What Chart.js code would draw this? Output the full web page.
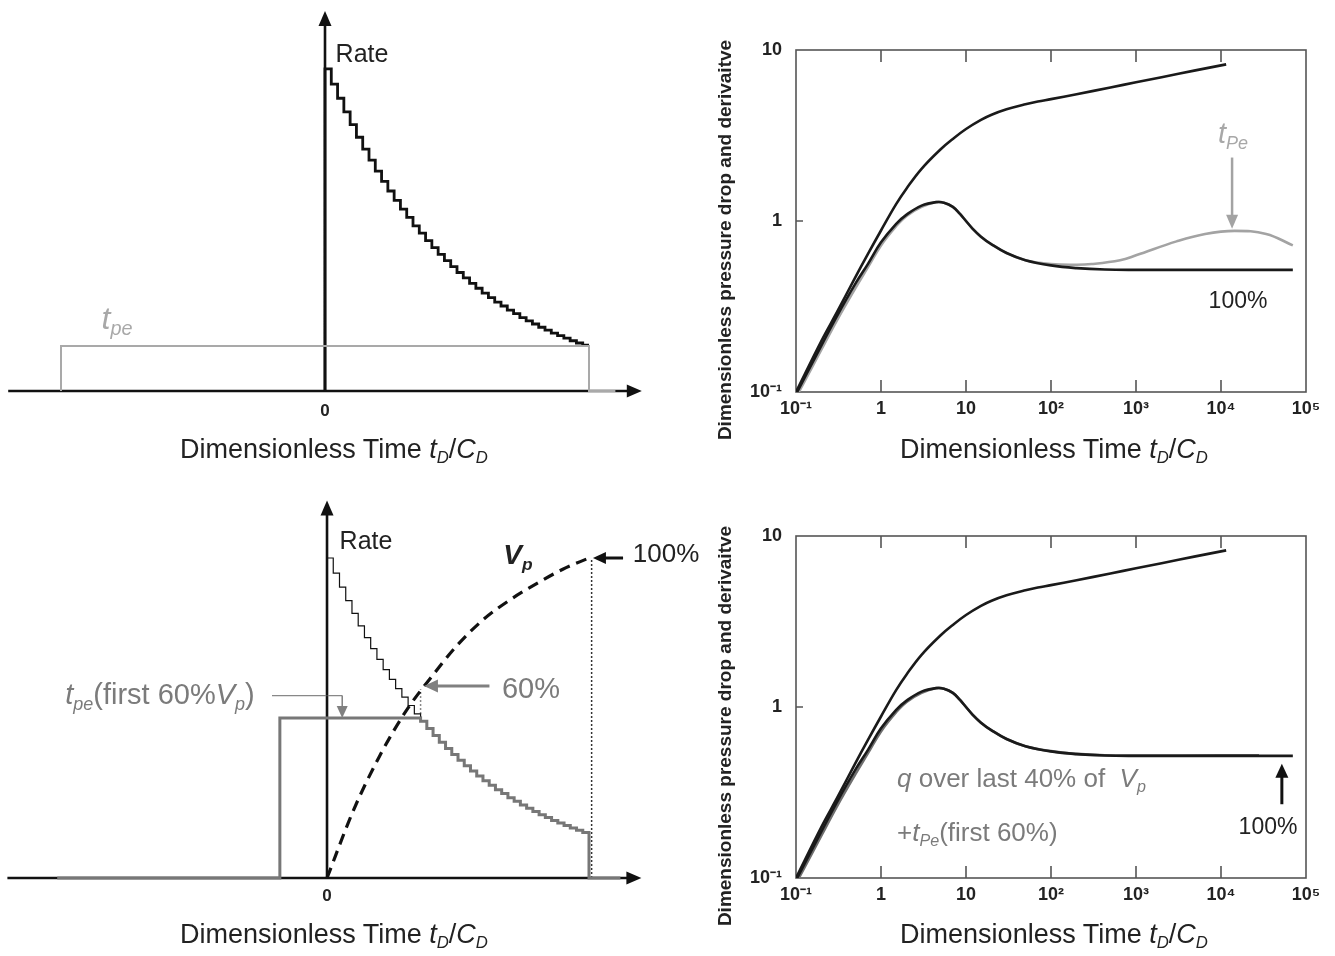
<!DOCTYPE html>
<html>
<head>
<meta charset="utf-8">
<script src="https://cdn.jsdelivr.net/npm/chart.js@4/dist/chart.umd.min.js"></script>
<style>
  body { margin: 0; background: #fff; width: 1335px; height: 956px; position: relative; overflow: hidden;
         font-family: "Liberation Sans", Arial, sans-serif; color: #222; }
  canvas { position: absolute; }
  .t { position: absolute; transform: translate(-50%, -50%); white-space: nowrap; line-height: 1; }
  .l { position: absolute; transform: translate(0, -50%); white-space: nowrap; line-height: 1; }
  .yt { position: absolute; transform: translate(-50%, -50%) rotate(-90deg); white-space: nowrap;
        font-weight: bold; font-size: 19px; line-height: 1; }
  .xt { font-size: 27px; }
  .s { font-size: 62%; position: relative; top: 0.32em; }
  .g1 { color: #a8a8a8; }
  .g2 { color: #7b7b7b; }
</style>
</head>
<body>
<canvas id="tl" width="667" height="478" style="left:0;top:0"></canvas>
<canvas id="tr" width="645" height="478" style="left:690px;top:0"></canvas>
<canvas id="bl" width="690" height="476" style="left:0;top:480px"></canvas>
<canvas id="br" width="645" height="476" style="left:690px;top:480px"></canvas>

<!-- top left -->
<div class="t" style="left:362px;top:53px;font-size:25px">Rate</div>
<div class="t g1" style="left:117px;top:318px;font-size:32px"><i>t<span class="s">pe</span></i></div>
<div class="t" style="left:325px;top:410px;font-size:17px;font-weight:bold">0</div>
<div class="t xt" style="left:334px;top:449px">Dimensionless Time <i>t</i><span class="s"><i>D</i></span>/<i>C</i><span class="s"><i>D</i></span></div>

<!-- top right -->
<div class="yt" style="left:724px;top:240px">Dimensionless pressure drop and derivaitve</div>
<div class="t g1" style="left:1233px;top:133px;font-size:29px"><i>t<span class="s">Pe</span></i></div>
<div class="t" style="left:1238px;top:300px;font-size:23px">100%</div>
<div class="t xt" style="left:1054px;top:449px">Dimensionless Time <i>t</i><span class="s"><i>D</i></span>/<i>C</i><span class="s"><i>D</i></span></div>

<!-- bottom left -->
<div class="t" style="left:366px;top:540px;font-size:25px">Rate</div>
<div class="t" style="left:518px;top:555px;font-size:28px;font-weight:bold"><i>V<span class="s">p</span></i></div>
<div class="t" style="left:666px;top:553px;font-size:26px">100%</div>
<div class="t g2" style="left:531px;top:688px;font-size:29px">60%</div>
<div class="t g2" style="left:160px;top:694px;font-size:29px"><i>t<span class="s">pe</span></i>(first 60%<i>V<span class="s">p</span></i>)</div>
<div class="t" style="left:327px;top:895px;font-size:17px;font-weight:bold">0</div>
<div class="t xt" style="left:334px;top:934px">Dimensionless Time <i>t</i><span class="s"><i>D</i></span>/<i>C</i><span class="s"><i>D</i></span></div>

<!-- bottom right -->
<div class="yt" style="left:724px;top:726px">Dimensionless pressure drop and derivaitve</div>
<div class="l g2" style="left:897px;top:778px;font-size:26px"><i>q</i> over last 40% of &nbsp;<i>V<span class="s">p</span></i></div>
<div class="l g2" style="left:897px;top:832px;font-size:26px">+<i>t<span class="s">Pe</span></i>(first 60%)</div>
<div class="t" style="left:1268px;top:826px;font-size:23px">100%</div>
<div class="t xt" style="left:1054px;top:934px">Dimensionless Time <i>t</i><span class="s"><i>D</i></span>/<i>C</i><span class="s"><i>D</i></span></div>

<script>
const FONT = "'Liberation Sans', Arial, sans-serif";

// rate history, one value per equal time step (fraction of peak rate)
const rateSteps = [1.000, 0.953, 0.909, 0.867, 0.827, 0.788, 0.751, 0.717, 0.683, 0.651,
                   0.621, 0.592, 0.565, 0.539, 0.513, 0.490, 0.467, 0.445, 0.424, 0.405,
                   0.386, 0.368, 0.351, 0.334, 0.319, 0.304, 0.290, 0.276, 0.264, 0.251,
                   0.240, 0.228, 0.218, 0.208, 0.198, 0.189, 0.180, 0.172, 0.164, 0.156,
                   0.149, 0.142];
// equivalent-time rectangle, top panel
const tpeTopX = [-1.0, -1.0, 1.0, 1.0, 1.10];
const tpeTopY = [0, 0.14, 0.14, 0, 0];
// equivalent-time rectangle for first 60% of Vp, bottom panel
const tpeBotX = [-1.03, -0.18, -0.18, 0.357];
const tpeBotY = [0, 0, 0.5, 0.5];
const split60 = 15;           // rate step where 60% of Vp is reached
// cumulative produced volume
const vpT = [0, 0.1, 0.2, 0.3, 0.4, 0.5, 0.6, 0.7, 0.8, 0.9, 1.0];
const vpFrac = [0, 0.21, 0.38, 0.52, 0.63, 0.73, 0.81, 0.87, 0.92, 0.965, 1.0];

// log-log type curves
const pressT = [0.1, 0.2, 0.3, 0.5, 0.7, 1, 1.5, 2, 3, 5, 7, 10, 15, 20, 30, 50, 70, 100, 200, 500, 1000, 2000, 5000, 10000, 11500];
const pressD = [0.1, 0.2, 0.29, 0.47, 0.64, 0.88, 1.25, 1.55, 2.02, 2.62, 3.02, 3.45, 3.9, 4.18, 4.5, 4.82, 5.0, 5.16, 5.51, 6.04, 6.47, 6.93, 7.6, 8.13, 8.24];
const derivT = [0.1, 0.2, 0.3, 0.5, 0.7, 1, 1.5, 2, 3, 4.5, 5.5, 7, 8.5, 10, 12, 15, 20, 30, 50, 100, 200, 430, 1000, 10000, 70000];
const derivD = [0.097, 0.188, 0.275, 0.43, 0.56, 0.75, 0.96, 1.09, 1.23, 1.29, 1.28, 1.21, 1.1, 1.0, 0.9, 0.81, 0.73, 0.65, 0.59, 0.55, 0.53, 0.52, 0.518, 0.518, 0.518];
const tpeCurveT = [0.1, 0.2, 0.3, 0.5, 0.7, 1, 1.5, 2, 3, 4.5, 5.5, 7, 8.5, 10, 12, 15, 20, 30, 50, 100, 200, 300, 650, 1000, 3000, 6500, 14500, 34000, 70000];
const tpeCurveD = [0.093, 0.178, 0.26, 0.405, 0.535, 0.72, 0.93, 1.07, 1.21, 1.29, 1.28, 1.21, 1.1, 1.0, 0.9, 0.81, 0.73, 0.65, 0.59, 0.56, 0.555, 0.56, 0.59, 0.63, 0.76, 0.84, 0.875, 0.84, 0.72];
const lastT = [0.1, 0.2, 0.3, 0.5, 0.7, 1, 1.5, 2, 3, 4.5, 5.5, 7, 8.5, 10, 12, 15, 20, 30, 50, 100, 200, 430, 1000, 10000, 28000];
const lastD = [0.093, 0.178, 0.26, 0.405, 0.535, 0.72, 0.93, 1.07, 1.21, 1.29, 1.28, 1.21, 1.1, 1.0, 0.9, 0.81, 0.73, 0.65, 0.59, 0.552, 0.532, 0.522, 0.52, 0.521, 0.522];

const xDecades = [0.1, 1, 10, 100, 1000, 10000, 100000];
const xDecadeLabels = ['10\u207B\u00B9', '1', '10', '10\u00B2', '10\u00B3', '10\u2074', '10\u2075'];
const yDecades = [0.1, 1, 10];
const yDecadeLabels = ['10\u207B\u00B9', '1', '10'];

const pts = (xs, ys) => xs.map((x, i) => ({ x, y: ys[i] }));
const N = rateSteps.length;
const ratePts = [{ x: 0, y: 0 }].concat(rateSteps.map((q, i) => ({ x: i / N, y: q })), [{ x: 1, y: rateSteps[N - 1] }]);

function drawArrows(chart, list) {
  const { ctx, scales: { x, y } } = chart;
  list.forEach(a => {
    const x1 = x.getPixelForValue(a.from[0]), y1 = y.getPixelForValue(a.from[1]);
    const x2 = x.getPixelForValue(a.to[0]), y2 = y.getPixelForValue(a.to[1]);
    const ang = Math.atan2(y2 - y1, x2 - x1), c = Math.cos(ang), s = Math.sin(ang);
    const hl = a.head || 13, hw = a.headW || 5.5;
    ctx.save();
    ctx.strokeStyle = a.color; ctx.fillStyle = a.color; ctx.lineWidth = a.width;
    ctx.beginPath(); ctx.moveTo(x1, y1); ctx.lineTo(x2 - c * hl * 0.7, y2 - s * hl * 0.7); ctx.stroke();
    ctx.beginPath(); ctx.moveTo(x2, y2);
    ctx.lineTo(x2 - hl * c + hw * s, y2 - hl * s - hw * c);
    ctx.lineTo(x2 - hl * c - hw * s, y2 - hl * s + hw * c);
    ctx.closePath(); ctx.fill();
    ctx.restore();
  });
}
const arrowPlugin = {
  id: 'arrows',
  beforeDatasetsDraw(chart, args, opts) { drawArrows(chart, opts.under || []); },
  afterDatasetsDraw(chart, args, opts) { drawArrows(chart, opts.over || []); }
};
const boxPlugin = {
  id: 'box',
  beforeDatasetsDraw(chart) {
    const { ctx, chartArea: { left, right, top, bottom }, scales: { x, y } } = chart;
    ctx.save();
    ctx.strokeStyle = '#555'; ctx.lineWidth = 1.6;
    ctx.strokeRect(left, top, right - left, bottom - top);
    ctx.beginPath();
    xDecades.slice(1, -1).forEach(v => {
      const px = x.getPixelForValue(v);
      ctx.moveTo(px, top); ctx.lineTo(px, top + 12);
      ctx.moveTo(px, bottom); ctx.lineTo(px, bottom - 12);
    });
    const py = y.getPixelForValue(1);
    ctx.moveTo(left, py); ctx.lineTo(left + 7, py);
    ctx.stroke();
    ctx.restore();
  }
};

function schematic(id, pad, xMin, datasets, under, over) {
  return new Chart(document.getElementById(id), {
    type: 'line',
    data: { datasets },
    options: {
      responsive: false, animation: false,
      layout: { padding: pad },
      datasets: { line: { clip: false, pointRadius: 0, fill: false } },
      scales: {
        x: { type: 'linear', min: xMin, max: 1.2, display: false },
        y: { type: 'linear', min: 0, max: 1.18, display: false }
      },
      plugins: { legend: { display: false }, tooltip: { enabled: false }, arrows: { under, over } }
    },
    plugins: [arrowPlugin]
  });
}

function typeCurves(id, pad, datasets, over) {
  const tickFont = { family: FONT, size: 18, weight: 'bold' };
  return new Chart(document.getElementById(id), {
    type: 'line',
    data: { datasets },
    options: {
      responsive: false, animation: false,
      layout: { padding: pad },
      datasets: { line: { pointRadius: 0, fill: false, tension: 0.4 } },
      scales: {
        x: {
          type: 'logarithmic', min: 0.1, max: 100000,
          afterBuildTicks: s => { s.ticks = xDecades.map(v => ({ value: v })); },
          afterFit: s => { s.height = 30; },
          grid: { display: false, drawTicks: false }, border: { display: false },
          ticks: { callback: (v, i) => xDecadeLabels[i], font: tickFont, color: '#222', padding: 6, maxRotation: 0, autoSkip: false }
        },
        y: {
          type: 'logarithmic', min: 0.1, max: 10,
          afterBuildTicks: s => { s.ticks = yDecades.map(v => ({ value: v })); },
          afterFit: s => { s.width = 106; },
          grid: { display: false, drawTicks: false }, border: { display: false },
          ticks: { callback: (v, i) => yDecadeLabels[i], font: tickFont, color: '#222', padding: 14, autoSkip: false }
        }
      },
      plugins: { legend: { display: false }, tooltip: { enabled: false }, arrows: { over } }
    },
    plugins: [boxPlugin, arrowPlugin]
  });
}

const axisArrows = (xMin) => [
  { from: [xMin, 0], to: [1.2, 0], color: '#111', width: 2.6, head: 15, headW: 6.5 },
  { from: [0, 0], to: [0, 1.18], color: '#111', width: 2.6, head: 15, headW: 6.5 }
];

// top left: rate history and equivalent time
schematic('tl', { left: 8.2, right: 25.2, top: 11, bottom: 87 }, -1.2, [
  { data: pts(tpeTopX, tpeTopY), borderColor: '#a9a9a9', borderWidth: 2 },
  { data: ratePts, borderColor: '#111', borderWidth: 2.8, stepped: 'before' }
], axisArrows(-1.2), []);

// bottom left: 60% Vp split
const grayBot = pts(tpeBotX, tpeBotY)
  .concat(rateSteps.slice(split60).map((q, i) => ({ x: (i + split60) / N, y: q })))
  .concat([{ x: 1, y: rateSteps[N - 1] }, { x: 1, y: 0 }, { x: 1.12, y: 0 }]);
const cut60 = split60 / N;
schematic('bl', { left: 7.4, right: 48.6, top: 20.4, bottom: 78 }, -1.22, [
  { data: grayBot, borderColor: '#777', borderWidth: 3, stepped: 'before' },
  { data: ratePts, borderColor: '#111', borderWidth: 1.2, stepped: 'before' },
  { data: pts(vpT, vpFrac), borderColor: '#111', borderWidth: 3.2, borderDash: [11, 7], cubicInterpolationMode: 'monotone' },
  { data: [{ x: cut60, y: 0.5 }, { x: cut60, y: 0.59 }], borderColor: '#888', borderWidth: 1.5, borderDash: [2, 2] },
  { data: [{ x: 1.01, y: 0 }, { x: 1.01, y: 1.0 }], borderColor: '#333', borderWidth: 1.5, borderDash: [2, 2] },
  { data: [{ x: -0.21, y: 0.57 }, { x: 0.058, y: 0.57 }], borderColor: '#888', borderWidth: 1.3 }
], axisArrows(-1.22), [
  { from: [1.13, 1.0], to: [1.015, 1.0], color: '#111', width: 3, head: 13, headW: 6 },
  { from: [0.62, 0.6], to: [0.37, 0.6], color: '#808080', width: 3, head: 14, headW: 6.5 },
  { from: [0.058, 0.57], to: [0.058, 0.5], color: '#808080', width: 1.5, head: 12, headW: 5.5 }
]);

// top right: type curves with equivalent time over whole history
typeCurves('tr', { left: 0, right: 29, top: 50, bottom: 56 }, [
  { data: pts(pressT, pressD), borderColor: '#1a1a1a', borderWidth: 2.6 },
  { data: pts(derivT, derivD), borderColor: '#1a1a1a', borderWidth: 2.6 },
  { data: pts(tpeCurveT, tpeCurveD), borderColor: '#a3a3a3', borderWidth: 2.6 }
], [
  { from: [13500, 2.35], to: [13500, 0.9], color: '#a3a3a3', width: 2.5, head: 14, headW: 6 }
]);

// bottom right: type curves with split history
typeCurves('br', { left: 0, right: 29, top: 56, bottom: 48 }, [
  { data: pts(pressT, pressD), borderColor: '#1a1a1a', borderWidth: 2.6 },
  { data: pts(derivT, derivD), borderColor: '#1a1a1a', borderWidth: 2.6 },
  { data: pts(lastT, lastD), borderColor: '#6f6f6f', borderWidth: 2.6 }
], [
  { from: [52000, 0.27], to: [52000, 0.465], color: '#111', width: 3, head: 14, headW: 6.5 }
]);
</script>
</body>
</html>
